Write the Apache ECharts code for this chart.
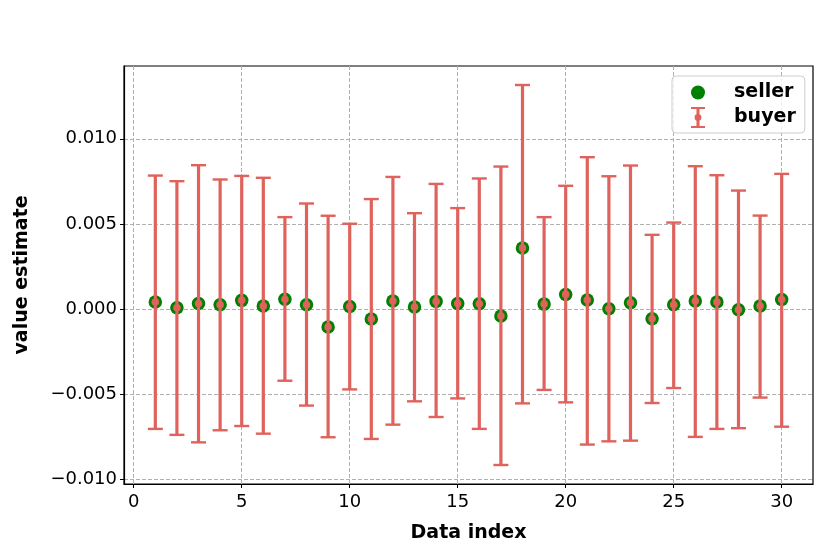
<!DOCTYPE html>
<html>
<head>
<meta charset="utf-8">
<title>value estimate</title>
<script src="https://cdn.jsdelivr.net/npm/echarts@6/dist/echarts.min.js"></script>
<style>
  html, body { margin: 0; padding: 0; background: #fff; }
  #chart { width: 830px; height: 554px; }
</style>
</head>
<body>
<div id="chart"></div>
<script>
// 数据：估计值
const dataIndex = [1, 2, 3, 4, 5, 6, 7, 8, 9, 10, 11, 12, 13, 14, 15, 16, 17, 18, 19, 20, 21, 22, 23, 24, 25, 26, 27, 28, 29, 30];
const sellerValues = [
  0.00041, 0.00008, 0.00033, 0.00025, 0.00051, 0.00018, 0.00057, 0.00025, -0.00106, 0.00015,
  -0.00059, 0.00047, 0.00012, 0.00045, 0.00033, 0.00031, -0.00041, 0.00358, 0.00029, 0.00086,
  0.00053, 0.00002, 0.00037, -0.00057, 0.00025, 0.00047, 0.00041, -0.00004, 0.00018, 0.00056,
];
const buyerValues = [
  0.00041, 0.00008, 0.00033, 0.00025, 0.00051, 0.00018, 0.00057, 0.00025, -0.00106, 0.00015,
  -0.00059, 0.00047, 0.00012, 0.00045, 0.00033, 0.00031, -0.00041, 0.00358, 0.00029, 0.00086,
  0.00053, 0.00002, 0.00037, -0.00057, 0.00025, 0.00047, 0.00041, -0.00004, 0.00018, 0.00056,
];
const buyerLower = [
  -0.00704, -0.00739, -0.00783, -0.00712, -0.00687, -0.00732, -0.00421, -0.00567, -0.00753, -0.00472,
  -0.00763, -0.00679, -0.00542, -0.00634, -0.00525, -0.00704, -0.00916, -0.00554, -0.00475, -0.00548,
  -0.00796, -0.00777, -0.00773, -0.00552, -0.00464, -0.00751, -0.00704, -0.00700, -0.00520, -0.00691,
];
const buyerUpper = [
  0.00784, 0.00751, 0.00845, 0.00761, 0.00782, 0.00771, 0.00540, 0.00620, 0.00548, 0.00501,
  0.00646, 0.00776, 0.00563, 0.00735, 0.00593, 0.00767, 0.00837, 0.01316, 0.00540, 0.00724,
  0.00892, 0.00780, 0.00843, 0.00436, 0.00508, 0.00839, 0.00786, 0.00696, 0.00549, 0.00794,
];
const xTicks = [0, 5, 10, 15, 20, 25, 30];
const yTicks = [-0.01, -0.005, 0, 0.005, 0.01];

const FONT = 'DejaVu Sans';
const sellerColor = '#008000';
const buyerColor = '#df625c';
const gridColor = '#b0b0b0';

// matplotlib 风格的 5% 边距
function paddedRange(lo, hi) {
  const pad = (hi - lo) * 0.05;
  return [lo - pad, hi + pad];
}
const xRange = paddedRange(Math.min(...dataIndex), Math.max(...dataIndex));
const yRange = paddedRange(Math.min(...buyerLower), Math.max(...buyerUpper));

const formatY = v => (v < 0 ? '\u2212' : '') + Math.abs(v).toFixed(3);

// 图例里的误差棒图标：上下横帽 + 竖线 + 中点（全部顺时针，避免填充出洞）
const buyerIcon = 'path://M0,0H14V2H0Z M0,19H14V21H0Z M5.5,2H8.5V19H5.5Z ' +
  'M3.6,10.5A3.4,3.4 0 1,1 10.4,10.5A3.4,3.4 0 1,1 3.6,10.5Z';

const chart = echarts.init(document.getElementById('chart'), null, { renderer: 'canvas' });

chart.setOption({
  animation: false,
  backgroundColor: '#fff',
  textStyle: { fontFamily: FONT },
  grid: {
    left: 124, right: 17, top: 66, bottom: 70,
    show: true, borderColor: '#000', borderWidth: 1.2, backgroundColor: 'transparent',
  },
  legend: {
    left: 672,
    top: 76,
    orient: 'vertical',
    itemWidth: 14,
    itemHeight: 21,
    itemGap: 5,
    padding: [7, 9, 5, 19],
    backgroundColor: 'rgba(255,255,255,0.8)',
    borderColor: '#cccccc',
    borderWidth: 1,
    borderRadius: 4,
    textStyle: {
      fontFamily: FONT, fontSize: 19, fontWeight: 'bold', color: '#000',
      padding: [0, 0, 0, 24],
    },
    data: [
      { name: 'seller', icon: 'circle', itemStyle: { color: sellerColor, borderWidth: 0 } },
      { name: 'buyer', icon: buyerIcon, itemStyle: { color: buyerColor, borderWidth: 0 } },
    ],
  },
  xAxis: {
    type: 'value',
    min: xRange[0],
    max: xRange[1],
    name: 'Data index',
    nameLocation: 'middle',
    nameGap: 40,
    nameTextStyle: { fontFamily: FONT, fontSize: 19, fontWeight: 'bold', color: '#000' },
    axisLine: { show: true, onZero: false, lineStyle: { color: '#000', width: 1.2 } },
    axisTick: { show: true, length: 4, lineStyle: { color: '#000', width: 1 }, customValues: xTicks },
    axisLabel: { customValues: xTicks, fontFamily: FONT, fontSize: 18, color: '#000', margin: 9 },
    splitLine: { show: true, customValues: xTicks, lineStyle: { color: gridColor, type: [4, 2], width: 1 } },
  },
  yAxis: {
    type: 'value',
    min: yRange[0],
    max: yRange[1],
    name: 'value estimate',
    nameLocation: 'middle',
    nameGap: 92,
    nameTextStyle: { fontFamily: FONT, fontSize: 19, fontWeight: 'bold', color: '#000' },
    axisLine: { show: true, onZero: false, lineStyle: { color: '#000', width: 1.2 } },
    axisTick: { show: true, length: 4, lineStyle: { color: '#000', width: 1 }, customValues: yTicks },
    axisLabel: { customValues: yTicks, formatter: formatY, fontFamily: FONT, fontSize: 18, color: '#000', margin: 7 },
    splitLine: { show: true, customValues: yTicks, lineStyle: { color: gridColor, type: [4, 2], width: 1 } },
  },
  series: [
    {
      name: 'seller',
      type: 'scatter',
      symbol: 'circle',
      symbolSize: 13.5,
      itemStyle: { color: sellerColor, opacity: 1 },
      data: dataIndex.map((x, i) => [x, sellerValues[i]]),
      z: 2,
    },
    {
      name: 'buyer',
      type: 'custom',
      itemStyle: { color: buyerColor },
      encode: { x: 0, y: [1, 2, 3] },
      data: dataIndex.map((x, i) => [x, buyerValues[i], buyerLower[i], buyerUpper[i]]),
      renderItem: (params, api) => {
        const x = api.value(0);
        const mid = api.coord([x, api.value(1)]);
        const low = api.coord([x, api.value(2)]);
        const high = api.coord([x, api.value(3)]);
        const half = 7.5;
        return {
          type: 'group',
          children: [
            { type: 'line', shape: { x1: mid[0], y1: high[1], x2: mid[0], y2: low[1] }, style: { stroke: buyerColor, lineWidth: 3.2 } },
            { type: 'line', shape: { x1: mid[0] - half, y1: high[1], x2: mid[0] + half, y2: high[1] }, style: { stroke: buyerColor, lineWidth: 2.4 } },
            { type: 'line', shape: { x1: mid[0] - half, y1: low[1], x2: mid[0] + half, y2: low[1] }, style: { stroke: buyerColor, lineWidth: 2.4 } },
            { type: 'circle', shape: { cx: mid[0], cy: mid[1], r: 3.8 }, style: { fill: buyerColor } },
          ],
        };
      },
      z: 3,
    },
  ],
});
</script>
</body>
</html>
